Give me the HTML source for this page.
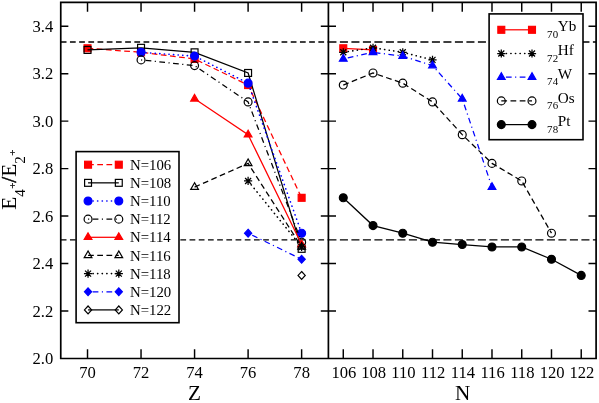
<!DOCTYPE html>
<html><head><meta charset="utf-8"><title>E4/E2 ratios</title>
<style>
html,body{margin:0;padding:0;background:#fff;}
body{width:599px;height:403px;overflow:hidden;}
svg{display:block;will-change:transform;}
svg text{font-family:"Liberation Serif",serif;fill:#000;}
</style></head><body>
<svg width="599" height="403" viewBox="0 0 599 403">
<rect x="0" y="0" width="599" height="403" fill="#fff"/>
<path d="M60.75 42.02 L328.40 42.02" fill="none" stroke="#000" stroke-width="1.30" stroke-dasharray="5.75 3.45"/>
<path d="M328.40 42.02 L596.10 42.02" fill="none" stroke="#000" stroke-width="1.30" stroke-dasharray="8.05 3.45"/>
<path d="M60.75 239.82 L328.40 239.82" fill="none" stroke="#000" stroke-width="1.30" stroke-dasharray="5.75 3.45"/>
<path d="M328.40 239.82 L596.10 239.82" fill="none" stroke="#000" stroke-width="1.30" stroke-dasharray="8.05 3.45"/>
<path d="M87.52 48.27 L141.04 52.31 L194.57 58.96 L248.10 85.06 L301.63 197.81" fill="none" stroke="#ff0000" stroke-width="1.25" stroke-dasharray="5.75 3.45"/>
<rect x="84.06" y="44.82" width="6.90" height="6.90" fill="#ff0000" stroke="#ff0000" stroke-width="1.20"/>
<rect x="137.59" y="48.86" width="6.90" height="6.90" fill="#ff0000" stroke="#ff0000" stroke-width="1.20"/>
<rect x="191.12" y="55.51" width="6.90" height="6.90" fill="#ff0000" stroke="#ff0000" stroke-width="1.20"/>
<rect x="244.65" y="81.61" width="6.90" height="6.90" fill="#ff0000" stroke="#ff0000" stroke-width="1.20"/>
<rect x="298.19" y="194.36" width="6.90" height="6.90" fill="#ff0000" stroke="#ff0000" stroke-width="1.20"/>
<path d="M87.52 49.94 L141.04 47.80 L194.57 52.31 L248.10 72.96 L301.63 248.84" fill="none" stroke="#000000" stroke-width="1.25"/>
<rect x="84.06" y="46.49" width="6.90" height="6.90" fill="none" stroke="#000000" stroke-width="1.20"/>
<rect x="137.59" y="44.35" width="6.90" height="6.90" fill="none" stroke="#000000" stroke-width="1.20"/>
<rect x="191.12" y="48.86" width="6.90" height="6.90" fill="none" stroke="#000000" stroke-width="1.20"/>
<rect x="244.65" y="69.51" width="6.90" height="6.90" fill="none" stroke="#000000" stroke-width="1.20"/>
<rect x="298.19" y="245.39" width="6.90" height="6.90" fill="none" stroke="#000000" stroke-width="1.20"/>
<path d="M141.04 52.31 L194.57 56.11 L248.10 83.17 L301.63 233.18" fill="none" stroke="#0000ff" stroke-width="1.60" stroke-dasharray="0.2 4.40" stroke-linecap="round" stroke-dashoffset="-0.35"/>
<circle cx="141.04" cy="52.31" r="3.95" fill="#0000ff" stroke="#0000ff" stroke-width="1.20"/>
<circle cx="194.57" cy="56.11" r="3.95" fill="#0000ff" stroke="#0000ff" stroke-width="1.20"/>
<circle cx="248.10" cy="83.17" r="3.95" fill="#0000ff" stroke="#0000ff" stroke-width="1.20"/>
<circle cx="301.63" cy="233.18" r="3.95" fill="#0000ff" stroke="#0000ff" stroke-width="1.20"/>
<path d="M141.04 59.90 L194.57 65.60 L248.10 101.92 L301.63 242.19" fill="none" stroke="#000000" stroke-width="1.25" stroke-dasharray="1.15 3.45 5.75 3.45"/>
<circle cx="141.04" cy="59.90" r="3.95" fill="none" stroke="#000000" stroke-width="1.20"/>
<circle cx="194.57" cy="65.60" r="3.95" fill="none" stroke="#000000" stroke-width="1.20"/>
<circle cx="248.10" cy="101.92" r="3.95" fill="none" stroke="#000000" stroke-width="1.20"/>
<circle cx="301.63" cy="242.19" r="3.95" fill="none" stroke="#000000" stroke-width="1.20"/>
<path d="M194.57 98.83 L248.10 134.67 L301.63 244.57" fill="none" stroke="#ff0000" stroke-width="1.25"/>
<path d="M194.57 94.39 L190.72 101.05 L198.42 101.05 Z" fill="#ff0000" stroke="#ff0000" stroke-width="1.20"/>
<path d="M248.10 130.23 L244.25 136.90 L251.95 136.90 Z" fill="#ff0000" stroke="#ff0000" stroke-width="1.20"/>
<path d="M301.63 240.12 L297.78 246.79 L305.49 246.79 Z" fill="#ff0000" stroke="#ff0000" stroke-width="1.20"/>
<path d="M194.57 187.13 L248.10 163.39 L301.63 246.94" fill="none" stroke="#000000" stroke-width="1.25" stroke-dasharray="5.75 3.45"/>
<path d="M194.57 182.68 L190.72 189.35 L198.42 189.35 Z" fill="none" stroke="#000000" stroke-width="1.20"/>
<path d="M248.10 158.95 L244.25 165.62 L251.95 165.62 Z" fill="none" stroke="#000000" stroke-width="1.20"/>
<path d="M301.63 242.50 L297.78 249.16 L305.49 249.16 Z" fill="none" stroke="#000000" stroke-width="1.20"/>
<path d="M248.10 180.96 L301.63 246.94" fill="none" stroke="#000000" stroke-width="1.60" stroke-dasharray="0.2 4.40" stroke-linecap="round" stroke-dashoffset="-0.35"/>
<path d="M244.00 180.96 H252.20 M248.10 176.86 V185.06 M245.10 177.96 L251.10 183.96 M245.10 183.96 L251.10 177.96" fill="none" stroke="#000000" stroke-width="1.25"/>
<path d="M297.53 246.94 H305.74 M301.63 242.84 V251.04 M298.63 243.94 L304.63 249.94 M298.63 249.94 L304.63 243.94" fill="none" stroke="#000000" stroke-width="1.25"/>
<path d="M248.10 233.18 L301.63 259.28" fill="none" stroke="#0000ff" stroke-width="1.25" stroke-dasharray="1.15 3.45 5.75 3.45"/>
<path d="M248.10 229.28 L251.70 233.18 L248.10 237.08 L244.50 233.18 Z" fill="#0000ff" stroke="#0000ff" stroke-width="1.20"/>
<path d="M301.63 255.38 L305.24 259.28 L301.63 263.18 L298.03 259.28 Z" fill="#0000ff" stroke="#0000ff" stroke-width="1.20"/>
<path d="M301.63 271.52 L305.24 275.42 L301.63 279.32 L298.03 275.42 Z" fill="none" stroke="#000000" stroke-width="1.20"/>
<path d="M343.27 48.27 L373.02 49.94" fill="none" stroke="#ff0000" stroke-width="1.25"/>
<rect x="339.82" y="44.82" width="6.90" height="6.90" fill="#ff0000" stroke="#ff0000" stroke-width="1.20"/>
<rect x="369.57" y="46.49" width="6.90" height="6.90" fill="#ff0000" stroke="#ff0000" stroke-width="1.20"/>
<path d="M343.27 52.31 L373.02 47.80 L402.76 52.31 L432.51 59.90" fill="none" stroke="#000000" stroke-width="1.60" stroke-dasharray="0.2 4.40" stroke-linecap="round" stroke-dashoffset="-0.35"/>
<path d="M339.17 52.31 H347.37 M343.27 48.21 V56.41 M340.27 49.31 L346.27 55.31 M340.27 55.31 L346.27 49.31" fill="none" stroke="#000000" stroke-width="1.25"/>
<path d="M368.92 47.80 H377.12 M373.02 43.70 V51.90 M370.02 44.80 L376.02 50.80 M370.02 50.80 L376.02 44.80" fill="none" stroke="#000000" stroke-width="1.25"/>
<path d="M398.66 52.31 H406.86 M402.76 48.21 V56.41 M399.76 49.31 L405.76 55.31 M399.76 55.31 L405.76 49.31" fill="none" stroke="#000000" stroke-width="1.25"/>
<path d="M428.41 59.90 H436.61 M432.51 55.80 V64.00 M429.51 56.90 L435.51 62.90 M429.51 62.90 L435.51 56.90" fill="none" stroke="#000000" stroke-width="1.25"/>
<path d="M343.27 58.96 L373.02 52.31 L402.76 56.11 L432.51 65.60 L462.25 98.83 L491.99 187.13" fill="none" stroke="#0000ff" stroke-width="1.25" stroke-dasharray="1.15 3.45 5.75 3.45"/>
<path d="M343.27 54.51 L339.42 61.18 L347.12 61.18 Z" fill="#0000ff" stroke="#0000ff" stroke-width="1.20"/>
<path d="M373.02 47.86 L369.17 54.53 L376.87 54.53 Z" fill="#0000ff" stroke="#0000ff" stroke-width="1.20"/>
<path d="M402.76 51.66 L398.91 58.33 L406.61 58.33 Z" fill="#0000ff" stroke="#0000ff" stroke-width="1.20"/>
<path d="M432.51 61.16 L428.66 67.82 L436.36 67.82 Z" fill="#0000ff" stroke="#0000ff" stroke-width="1.20"/>
<path d="M462.25 94.39 L458.40 101.05 L466.10 101.05 Z" fill="#0000ff" stroke="#0000ff" stroke-width="1.20"/>
<path d="M491.99 182.68 L488.14 189.35 L495.84 189.35 Z" fill="#0000ff" stroke="#0000ff" stroke-width="1.20"/>
<path d="M343.27 85.06 L373.02 72.96 L402.76 83.17 L432.51 101.92 L462.25 134.67 L491.99 163.39 L521.74 180.96 L551.48 233.18" fill="none" stroke="#000000" stroke-width="1.25" stroke-dasharray="5.75 3.45"/>
<circle cx="343.27" cy="85.06" r="3.95" fill="none" stroke="#000000" stroke-width="1.20"/>
<circle cx="373.02" cy="72.96" r="3.95" fill="none" stroke="#000000" stroke-width="1.20"/>
<circle cx="402.76" cy="83.17" r="3.95" fill="none" stroke="#000000" stroke-width="1.20"/>
<circle cx="432.51" cy="101.92" r="3.95" fill="none" stroke="#000000" stroke-width="1.20"/>
<circle cx="462.25" cy="134.67" r="3.95" fill="none" stroke="#000000" stroke-width="1.20"/>
<circle cx="491.99" cy="163.39" r="3.95" fill="none" stroke="#000000" stroke-width="1.20"/>
<circle cx="521.74" cy="180.96" r="3.95" fill="none" stroke="#000000" stroke-width="1.20"/>
<circle cx="551.48" cy="233.18" r="3.95" fill="none" stroke="#000000" stroke-width="1.20"/>
<path d="M343.27 197.81 L373.02 225.58 L402.76 233.18 L432.51 242.19 L462.25 244.57 L491.99 246.94 L521.74 246.94 L551.48 259.28 L581.23 275.42" fill="none" stroke="#000000" stroke-width="1.25"/>
<circle cx="343.27" cy="197.81" r="3.95" fill="#000000" stroke="#000000" stroke-width="1.20"/>
<circle cx="373.02" cy="225.58" r="3.95" fill="#000000" stroke="#000000" stroke-width="1.20"/>
<circle cx="402.76" cy="233.18" r="3.95" fill="#000000" stroke="#000000" stroke-width="1.20"/>
<circle cx="432.51" cy="242.19" r="3.95" fill="#000000" stroke="#000000" stroke-width="1.20"/>
<circle cx="462.25" cy="244.57" r="3.95" fill="#000000" stroke="#000000" stroke-width="1.20"/>
<circle cx="491.99" cy="246.94" r="3.95" fill="#000000" stroke="#000000" stroke-width="1.20"/>
<circle cx="521.74" cy="246.94" r="3.95" fill="#000000" stroke="#000000" stroke-width="1.20"/>
<circle cx="551.48" cy="259.28" r="3.95" fill="#000000" stroke="#000000" stroke-width="1.20"/>
<circle cx="581.23" cy="275.42" r="3.95" fill="#000000" stroke="#000000" stroke-width="1.20"/>
<path d="M60.75 2.40 H596.10 V358.50 H60.75 Z M328.40 2.40 V358.50" fill="none" stroke="#000" stroke-width="1.70"/>
<path d="M60.75 311.03 h7.60 M320.80 311.03 h15.20 M596.10 311.03 h-7.60 M60.75 263.56 h7.60 M320.80 263.56 h15.20 M596.10 263.56 h-7.60 M60.75 216.09 h7.60 M320.80 216.09 h15.20 M596.10 216.09 h-7.60 M60.75 168.61 h7.60 M320.80 168.61 h15.20 M596.10 168.61 h-7.60 M60.75 121.14 h7.60 M320.80 121.14 h15.20 M596.10 121.14 h-7.60 M60.75 73.67 h7.60 M320.80 73.67 h15.20 M596.10 73.67 h-7.60 M60.75 26.20 h7.60 M320.80 26.20 h15.20 M596.10 26.20 h-7.60 M87.52 358.50 v-9.30 M87.52 2.40 v9.30 M141.04 358.50 v-9.30 M141.04 2.40 v9.30 M194.57 358.50 v-9.30 M194.57 2.40 v9.30 M248.10 358.50 v-9.30 M248.10 2.40 v9.30 M301.63 358.50 v-9.30 M301.63 2.40 v9.30 M343.27 358.50 v-9.30 M343.27 2.40 v9.30 M373.02 358.50 v-9.30 M373.02 2.40 v9.30 M402.76 358.50 v-9.30 M402.76 2.40 v9.30 M432.51 358.50 v-9.30 M432.51 2.40 v9.30 M462.25 358.50 v-9.30 M462.25 2.40 v9.30 M491.99 358.50 v-9.30 M491.99 2.40 v9.30 M521.74 358.50 v-9.30 M521.74 2.40 v9.30 M551.48 358.50 v-9.30 M551.48 2.40 v9.30 M581.23 358.50 v-9.30 M581.23 2.40 v9.30" fill="none" stroke="#000" stroke-width="1.45"/>
<text x="53.2" y="364.30" font-size="16.6" text-anchor="end">2.0</text>
<text x="53.2" y="316.83" font-size="16.6" text-anchor="end">2.2</text>
<text x="53.2" y="269.36" font-size="16.6" text-anchor="end">2.4</text>
<text x="53.2" y="221.89" font-size="16.6" text-anchor="end">2.6</text>
<text x="53.2" y="174.41" font-size="16.6" text-anchor="end">2.8</text>
<text x="53.2" y="126.94" font-size="16.6" text-anchor="end">3.0</text>
<text x="53.2" y="79.47" font-size="16.6" text-anchor="end">3.2</text>
<text x="53.2" y="32.00" font-size="16.6" text-anchor="end">3.4</text>
<text x="87.52" y="377.9" font-size="16.6" text-anchor="middle">70</text>
<text x="141.04" y="377.9" font-size="16.6" text-anchor="middle">72</text>
<text x="194.57" y="377.9" font-size="16.6" text-anchor="middle">74</text>
<text x="248.10" y="377.9" font-size="16.6" text-anchor="middle">76</text>
<text x="301.63" y="377.9" font-size="16.6" text-anchor="middle">78</text>
<text x="343.87" y="377.9" font-size="16.6" text-anchor="middle">106</text>
<text x="373.62" y="377.9" font-size="16.6" text-anchor="middle">108</text>
<text x="403.36" y="377.9" font-size="16.6" text-anchor="middle">110</text>
<text x="433.11" y="377.9" font-size="16.6" text-anchor="middle">112</text>
<text x="462.85" y="377.9" font-size="16.6" text-anchor="middle">114</text>
<text x="492.59" y="377.9" font-size="16.6" text-anchor="middle">116</text>
<text x="522.34" y="377.9" font-size="16.6" text-anchor="middle">118</text>
<text x="552.08" y="377.9" font-size="16.6" text-anchor="middle">120</text>
<text x="581.83" y="377.9" font-size="16.6" text-anchor="middle">122</text>
<text x="194.57" y="400.0" font-size="21.2" text-anchor="middle">Z</text>
<text x="462.65" y="400.0" font-size="21.2" text-anchor="middle">N</text>
<g transform="translate(15.8 209.8) rotate(-90)"><text x="0" y="0" font-size="21.2">E<tspan font-size="15" dy="8.8">4</tspan><tspan font-size="11" dy="-8.8" dx="0.5" stroke="#000" stroke-width="0.3">+</tspan><tspan font-size="21.2" stroke="#000" stroke-width="0.5">/</tspan><tspan font-size="21.2">E</tspan><tspan font-size="15" dy="8.8">2</tspan><tspan font-size="11" dy="-8.8" dx="0.5" stroke="#000" stroke-width="0.3">+</tspan></text></g>
<rect x="76.1" y="151.6" width="102.9" height="171.1" fill="#fff" stroke="#000" stroke-width="1.6"/>
<path d="M88.05 164.70 L118.80 164.70" fill="none" stroke="#ff0000" stroke-width="1.25" stroke-dasharray="5.75 3.45"/>
<rect x="84.60" y="161.25" width="6.90" height="6.90" fill="#ff0000" stroke="#ff0000" stroke-width="1.20"/>
<rect x="115.35" y="161.25" width="6.90" height="6.90" fill="#ff0000" stroke="#ff0000" stroke-width="1.20"/>
<text x="130.0" y="169.80" font-size="14.8">N=106</text>
<path d="M88.05 182.85 L118.80 182.85" fill="none" stroke="#000000" stroke-width="1.25"/>
<rect x="84.60" y="179.40" width="6.90" height="6.90" fill="none" stroke="#000000" stroke-width="1.20"/>
<rect x="115.35" y="179.40" width="6.90" height="6.90" fill="none" stroke="#000000" stroke-width="1.20"/>
<text x="130.0" y="187.95" font-size="14.8">N=108</text>
<path d="M88.05 201.00 L118.80 201.00" fill="none" stroke="#0000ff" stroke-width="1.60" stroke-dasharray="0.2 4.40" stroke-linecap="round" stroke-dashoffset="-0.35"/>
<circle cx="88.05" cy="201.00" r="3.95" fill="#0000ff" stroke="#0000ff" stroke-width="1.20"/>
<circle cx="118.80" cy="201.00" r="3.95" fill="#0000ff" stroke="#0000ff" stroke-width="1.20"/>
<text x="130.0" y="206.10" font-size="14.8">N=110</text>
<path d="M88.05 219.15 L118.80 219.15" fill="none" stroke="#000000" stroke-width="1.25" stroke-dasharray="1.15 3.45 5.75 3.45"/>
<circle cx="88.05" cy="219.15" r="3.95" fill="none" stroke="#000000" stroke-width="1.20"/>
<circle cx="118.80" cy="219.15" r="3.95" fill="none" stroke="#000000" stroke-width="1.20"/>
<text x="130.0" y="224.25" font-size="14.8">N=112</text>
<path d="M88.05 237.30 L118.80 237.30" fill="none" stroke="#ff0000" stroke-width="1.25"/>
<path d="M88.05 232.85 L84.20 239.52 L91.90 239.52 Z" fill="#ff0000" stroke="#ff0000" stroke-width="1.20"/>
<path d="M118.80 232.85 L114.95 239.52 L122.65 239.52 Z" fill="#ff0000" stroke="#ff0000" stroke-width="1.20"/>
<text x="130.0" y="242.40" font-size="14.8">N=114</text>
<path d="M88.05 255.45 L118.80 255.45" fill="none" stroke="#000000" stroke-width="1.25" stroke-dasharray="5.75 3.45"/>
<path d="M88.05 251.00 L84.20 257.67 L91.90 257.67 Z" fill="none" stroke="#000000" stroke-width="1.20"/>
<path d="M118.80 251.00 L114.95 257.67 L122.65 257.67 Z" fill="none" stroke="#000000" stroke-width="1.20"/>
<text x="130.0" y="260.55" font-size="14.8">N=116</text>
<path d="M88.05 273.60 L118.80 273.60" fill="none" stroke="#000000" stroke-width="1.60" stroke-dasharray="0.2 4.40" stroke-linecap="round" stroke-dashoffset="-0.35"/>
<path d="M83.95 273.60 H92.15 M88.05 269.50 V277.70 M85.05 270.60 L91.05 276.60 M85.05 276.60 L91.05 270.60" fill="none" stroke="#000000" stroke-width="1.25"/>
<path d="M114.70 273.60 H122.90 M118.80 269.50 V277.70 M115.80 270.60 L121.80 276.60 M115.80 276.60 L121.80 270.60" fill="none" stroke="#000000" stroke-width="1.25"/>
<text x="130.0" y="278.70" font-size="14.8">N=118</text>
<path d="M88.05 291.75 L118.80 291.75" fill="none" stroke="#0000ff" stroke-width="1.25" stroke-dasharray="1.15 3.45 5.75 3.45"/>
<path d="M88.05 287.85 L91.65 291.75 L88.05 295.65 L84.45 291.75 Z" fill="#0000ff" stroke="#0000ff" stroke-width="1.20"/>
<path d="M118.80 287.85 L122.40 291.75 L118.80 295.65 L115.20 291.75 Z" fill="#0000ff" stroke="#0000ff" stroke-width="1.20"/>
<text x="130.0" y="296.85" font-size="14.8">N=120</text>
<path d="M88.05 309.90 L118.80 309.90" fill="none" stroke="#000000" stroke-width="1.25"/>
<path d="M88.05 306.00 L91.65 309.90 L88.05 313.80 L84.45 309.90 Z" fill="none" stroke="#000000" stroke-width="1.20"/>
<path d="M118.80 306.00 L122.40 309.90 L118.80 313.80 L115.20 309.90 Z" fill="none" stroke="#000000" stroke-width="1.20"/>
<text x="130.0" y="315.00" font-size="14.8">N=122</text>
<rect x="489.1" y="13.9" width="93.9" height="125.8" fill="#fff" stroke="#000" stroke-width="1.6"/>
<path d="M501.30 29.80 L532.00 29.80" fill="none" stroke="#ff0000" stroke-width="1.25"/>
<rect x="497.85" y="26.35" width="6.90" height="6.90" fill="#ff0000" stroke="#ff0000" stroke-width="1.20"/>
<rect x="528.55" y="26.35" width="6.90" height="6.90" fill="#ff0000" stroke="#ff0000" stroke-width="1.20"/>
<text font-size="15.2"><tspan font-size="10.9" letter-spacing="0.3" x="546.9" y="38.00">70</tspan><tspan x="557.7" y="31.40">Yb</tspan></text>
<path d="M501.30 53.50 L532.00 53.50" fill="none" stroke="#000000" stroke-width="1.60" stroke-dasharray="0.2 4.40" stroke-linecap="round" stroke-dashoffset="-0.35"/>
<path d="M497.20 53.50 H505.40 M501.30 49.40 V57.60 M498.30 50.50 L504.30 56.50 M498.30 56.50 L504.30 50.50" fill="none" stroke="#000000" stroke-width="1.25"/>
<path d="M527.90 53.50 H536.10 M532.00 49.40 V57.60 M529.00 50.50 L535.00 56.50 M529.00 56.50 L535.00 50.50" fill="none" stroke="#000000" stroke-width="1.25"/>
<text font-size="15.2"><tspan font-size="10.9" letter-spacing="0.3" x="546.9" y="61.70">72</tspan><tspan x="557.7" y="55.10">Hf</tspan></text>
<path d="M501.30 77.20 L532.00 77.20" fill="none" stroke="#0000ff" stroke-width="1.25" stroke-dasharray="1.15 3.45 5.75 3.45"/>
<path d="M501.30 72.75 L497.45 79.42 L505.15 79.42 Z" fill="#0000ff" stroke="#0000ff" stroke-width="1.20"/>
<path d="M532.00 72.75 L528.15 79.42 L535.85 79.42 Z" fill="#0000ff" stroke="#0000ff" stroke-width="1.20"/>
<text font-size="15.2"><tspan font-size="10.9" letter-spacing="0.3" x="546.9" y="85.40">74</tspan><tspan x="557.7" y="78.80">W</tspan></text>
<path d="M501.30 100.90 L532.00 100.90" fill="none" stroke="#000000" stroke-width="1.25" stroke-dasharray="5.75 3.45"/>
<circle cx="501.30" cy="100.90" r="3.95" fill="none" stroke="#000000" stroke-width="1.20"/>
<circle cx="532.00" cy="100.90" r="3.95" fill="none" stroke="#000000" stroke-width="1.20"/>
<text font-size="15.2"><tspan font-size="10.9" letter-spacing="0.3" x="546.9" y="109.10">76</tspan><tspan x="557.7" y="102.50">Os</tspan></text>
<path d="M501.30 124.60 L532.00 124.60" fill="none" stroke="#000000" stroke-width="1.25"/>
<circle cx="501.30" cy="124.60" r="3.95" fill="#000000" stroke="#000000" stroke-width="1.20"/>
<circle cx="532.00" cy="124.60" r="3.95" fill="#000000" stroke="#000000" stroke-width="1.20"/>
<text font-size="15.2"><tspan font-size="10.9" letter-spacing="0.3" x="546.9" y="132.80">78</tspan><tspan x="557.7" y="126.20">Pt</tspan></text>
</svg>
</body></html>
